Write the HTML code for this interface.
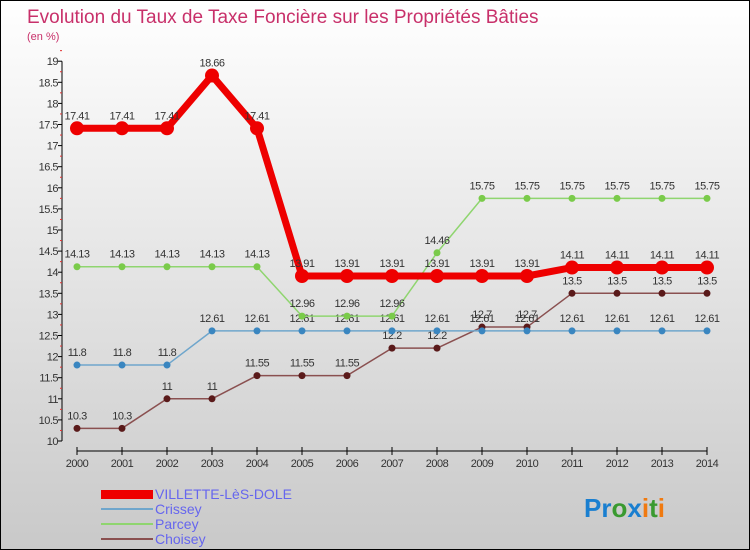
<!DOCTYPE html>
<html><head><meta charset="utf-8"><style>
body{margin:0}
#wrap{position:relative;width:750px;height:550px;box-sizing:border-box;border:1px solid #000;background:linear-gradient(#ffffff,#c9c9c9);font-family:"Liberation Sans",sans-serif;overflow:hidden}
svg text{font-family:"Liberation Sans",sans-serif}
</style></head><body>
<div id="wrap">
<svg id="chart" width="750" height="550">
<text x="26" y="22" font-size="19" fill="#c8306a">Evolution du Taux de Taxe Foncière sur les Propriétés Bâties</text>
<text x="26" y="39" font-size="11" fill="#c8306a">(en %)</text>
<g id="axes"></g><g id="series"></g>
<g>
<rect x="100" y="489" width="52" height="9" fill="#ee0000"/>
<text x="154" y="498" font-size="14" fill="#6666ee">VILLETTE-LèS-DOLE</text>
<rect x="100" y="507" width="52" height="2" fill="#6fa6cc"/>
<text x="154" y="513" font-size="14" fill="#6666ee">Crissey</text>
<rect x="100" y="522" width="52" height="2" fill="#8fd56f"/>
<text x="154" y="528" font-size="14" fill="#6666ee">Parcey</text>
<rect x="100" y="537" width="52" height="2" fill="#8a5050"/>
<text x="154" y="543" font-size="14" fill="#6666ee">Choisey</text>
</g>
<text x="583" y="516" font-size="26" font-weight="bold"><tspan fill="#1a7fd0">Pr</tspan><tspan fill="#3a9a30">o</tspan><tspan fill="#1a7fd0">x</tspan><tspan fill="#f07a10">i</tspan><tspan fill="#3a9a30">t</tspan><tspan fill="#f07a10">i</tspan></text>
</svg>
</div>
<script>
const years=[2000,2001,2002,2003,2004,2005,2006,2007,2008,2009,2010,2011,2012,2013,2014];
const villette=[17.41,17.41,17.41,18.66,17.41,13.91,13.91,13.91,13.91,13.91,13.91,14.11,14.11,14.11,14.11];
const crissey=[11.8,11.8,11.8,12.61,12.61,12.61,12.61,12.61,12.61,12.61,12.61,12.61,12.61,12.61,12.61];
const parcey=[14.13,14.13,14.13,14.13,14.13,12.96,12.96,12.96,14.46,15.75,15.75,15.75,15.75,15.75,15.75];
const choisey=[10.3,10.3,11,11,11.55,11.55,11.55,12.2,12.2,12.7,12.7,13.5,13.5,13.5,13.5];
const yTicks=[10,10.5,11,11.5,12,12.5,13,13.5,14,14.5,15,15.5,16,16.5,17,17.5,18,18.5,19];
const NS="http://www.w3.org/2000/svg";
const xS=i=>76+i*45;
const yS=v=>440-(v-10)*42.2;
function mk(tag,attrs,parent){const e=document.createElementNS(NS,tag);for(const k in attrs)e.setAttribute(k,attrs[k]);parent.appendChild(e);return e;}
const axes=document.getElementById('axes');
const ya=mk('line',{x1:61,y1:yS(19),x2:61,y2:yS(10),stroke:'#000','stroke-width':1},axes);


yTicks.forEach(t=>{
 const tl=mk('line',{x1:57,x2:61,y1:yS(t),y2:yS(t),stroke:'#000'},axes);
 
 
 const m=mk('line',{x1:59,x2:61,y1:yS(t+0.25),y2:yS(t+0.25),stroke:'#e03030'},axes);
 
 
 const tx=mk('text',{x:57,y:yS(t)+4,'font-size':11,fill:'#333','text-anchor':'end','letter-spacing':'-0.5'},axes);
 tx.textContent=String(t);
 
 
});
const xa=mk('line',{x1:xS(0),y1:450,x2:xS(14),y2:450,stroke:'#000'},axes);


years.forEach((y,i)=>{
 const tl=mk('line',{x1:xS(i),x2:xS(i),y1:446,y2:454,stroke:'#000'},axes);
 
 
 const tx=mk('text',{x:xS(i),y:466,'font-size':11,fill:'#333','text-anchor':'middle','letter-spacing':'-0.5'},axes);
 tx.textContent=String(y);
 
 
});
const ser=document.getElementById('series');
function draw(name,vals,color,dot,w,r){
 const g=mk('g',{},ser);
 
 
 const pl=mk('polyline',{points:vals.map((v,i)=>xS(i)+','+yS(v)).join(' '),fill:'none',stroke:color,'stroke-width':w,'stroke-linejoin':'round'},g);
 
 
 vals.forEach((v,i)=>{
  const c=mk('circle',{cx:xS(i),cy:yS(v),r:r,fill:dot},g);
  
  
  const t=mk('text',{x:xS(i),y:yS(v)-9,'font-size':11,fill:'#333','text-anchor':'middle','letter-spacing':'-0.5'},g);
  t.textContent=String(v);
  
  
 });
}
draw('choisey',choisey,'#8a5050','#5a1a1a',1.5,3.5);
draw('crissey',crissey,'#6fa6cc','#3a86c0',1.5,3.5);
draw('parcey',parcey,'#8fd56f','#7acb4a',1.5,3.5);
draw('villette',villette,'#ee0000','#ee0000',7,7);
</script>
</body></html>
